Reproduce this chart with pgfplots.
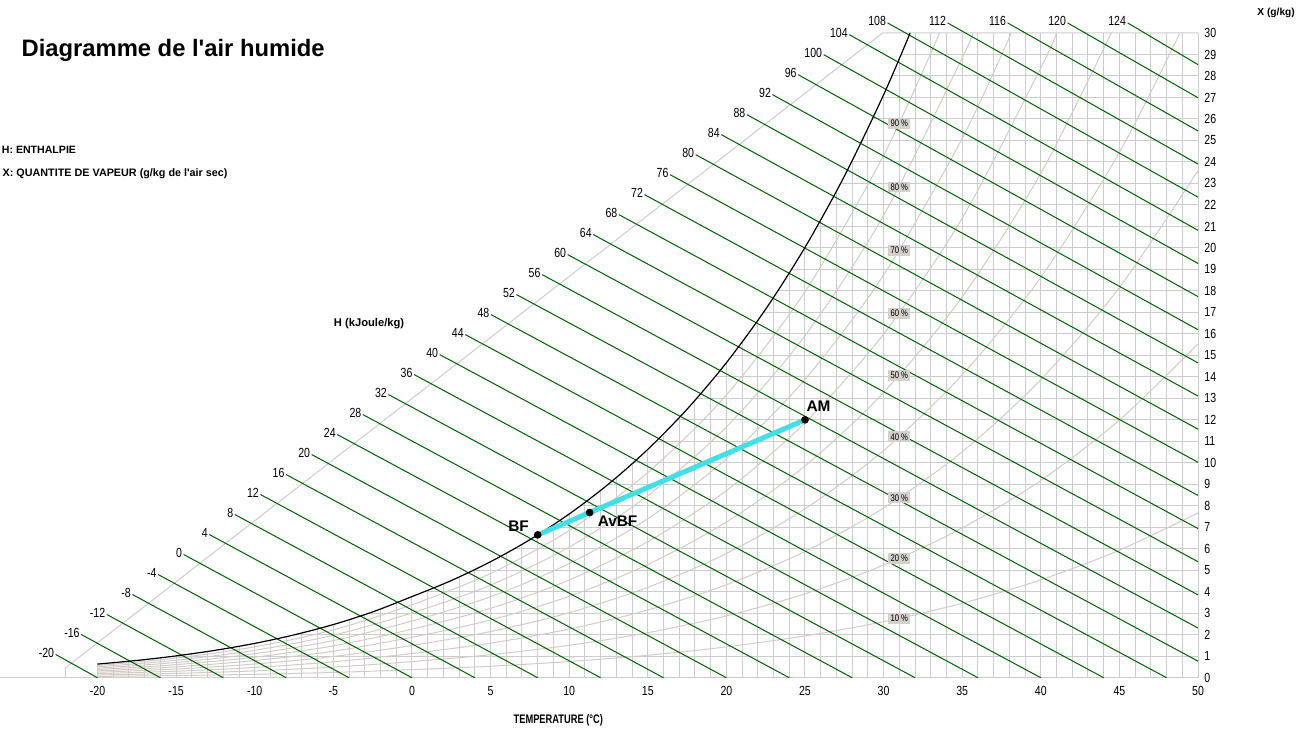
\documentclass[border=0pt]{standalone}
\usepackage{fontspec}
\setmainfont{Liberation Sans}
\usepackage{graphicx}
\usepackage{pgfplots}
\pgfplotsset{compat=1.18}
\usepgfplotslibrary{fillbetween}
\definecolor{gridc}{RGB}{204,204,204}
\definecolor{rhc}{RGB}{210,203,199}
\definecolor{greenl}{RGB}{0,95,0}
\definecolor{boxc}{RGB}{212,208,204}
\definecolor{cyanl}{RGB}{64,224,228}
\newcommand\nar[1]{\scalebox{0.8}[1]{#1}}
\newcommand\numfont{\fontsize{6.6}{7}\selectfont}
\newcommand\rhfont{\fontsize{4.8}{5}\selectfont}
\begin{document}
\begin{tikzpicture}
\begin{axis}[scale only axis, width=657.5pt, height=364.5pt,
  xmin=-26.17, xmax=57.44, ymin=-2.372, ymax=31.535, hide axis, clip=false]
\addplot[draw=none] coordinates {(-26.17,-2.372) (57.44,31.535)};
% grid
\pgfplotsinvokeforeach{-19,...,50}{\addplot[gridc, line width=0.5pt] coordinates {(#1,0) (#1,30)};}
\addplot[gridc, line width=0.5pt] coordinates {(-20,0) (-20,0.635)};
\pgfplotsinvokeforeach{1,...,29}{\addplot[gridc, line width=0.5pt] coordinates {(-20,#1) (50,#1)};}
% cover the fog region
\addplot[name path=satfill, draw=none, smooth] coordinates {(-20,0.635) (-17.5,0.805) (-15,1.016) (-12.5,1.278) (-10,1.598) (-7.5,1.994) (-5,2.475) (-2.5,3.063) (0,3.775) (2.5,4.521) (5,5.398) (7.5,6.423) (10,7.618) (12.5,9.009) (15,10.625) (17.5,12.495) (20,14.656) (22.5,17.150) (25,20.023) (27.5,23.33) (30,27.123) (31.69,30)};
\addplot[name path=topb, draw=none] coordinates {(-20,30.6) (31.75,30.6)};
\addplot[white] fill between[of=satfill and topb, on layer=main];
% relative humidity curves
\addplot[rhc, line width=0.5pt, smooth] coordinates {(-20,0.063) (-15,0.101) (-10,0.160) (-5,0.247) (0,0.375) (5,0.536) (10,0.754) (15,1.046) (20,1.435) (25,1.946) (30,2.610) (35,3.465) (40,4.556) (45,5.937) (50,7.671)};
\addplot[rhc, line width=0.5pt, smooth] coordinates {(-20,0.127) (-15,0.203) (-10,0.319) (-5,0.493) (0,0.751) (5,1.072) (10,1.509) (15,2.096) (20,2.877) (25,3.904) (30,5.242) (35,6.969) (40,9.179) (45,11.989) (50,15.534)};
\addplot[rhc, line width=0.5pt, smooth] coordinates {(-20,0.190) (-15,0.305) (-10,0.479) (-5,0.741) (0,1.128) (5,1.610) (10,2.266) (15,3.150) (20,4.325) (25,5.875) (30,7.896) (35,10.512) (40,13.871) (45,18.158) (50,23.596)};
\addplot[rhc, line width=0.5pt, smooth] coordinates {(-20,0.254) (-15,0.406) (-10,0.639) (-5,0.988) (0,1.504) (5,2.148) (10,3.025) (15,4.207) (20,5.781) (25,7.858) (30,10.572) (35,14.095) (40,18.633) (45,24.448) (48.85,30)};
\addplot[rhc, line width=0.5pt, smooth] coordinates {(-20,0.317) (-15,0.508) (-10,0.798) (-5,1.235) (0,1.882) (5,2.687) (10,3.786) (15,5.267) (20,7.243) (25,9.853) (30,13.272) (35,17.719) (40,23.467) (44.48,30)};
\addplot[rhc, line width=0.5pt, smooth] coordinates {(-20,0.381) (-15,0.610) (-10,0.958) (-5,1.482) (0,2.259) (5,3.228) (10,4.549) (15,6.332) (20,8.711) (25,11.861) (30,15.994) (35,21.385) (40,28.375) (41.0,30)};
\addplot[rhc, line width=0.5pt, smooth] coordinates {(-20,0.444) (-15,0.711) (-10,1.118) (-5,1.730) (0,2.638) (5,3.769) (10,5.313) (15,7.399) (20,10.187) (25,13.882) (30,18.741) (35,25.093) (38.12,30)};
\addplot[rhc, line width=0.5pt, smooth] coordinates {(-20,0.508) (-15,0.813) (-10,1.278) (-5,1.978) (0,3.016) (5,4.311) (10,6.080) (15,8.471) (20,11.670) (25,15.916) (30,21.510) (35,28.844) (35.68,30)};
\addplot[rhc, line width=0.5pt, smooth] coordinates {(-20,0.571) (-15,0.915) (-10,1.438) (-5,2.226) (0,3.395) (5,4.854) (10,6.848) (15,9.546) (20,13.159) (25,17.963) (30,24.304) (33.56,30)};
% frame
\addplot[gridc, line width=0.5pt] coordinates {(-26.17,0) (50,0)};
\addplot[gridc, line width=0.5pt] coordinates {(-22.036,0) (-22.036,0.465) (29.936,30) (50,30)};
% enthalpy lines
\newcommand\hl[5]{\addplot[greenl, line width=0.5pt] coordinates {(#2,#3) (#4,#5)};
  \node[anchor=east, inner sep=0.6pt, yshift=0.9pt, font=\numfont] at (axis cs:#2,#3) {\nar{#1}};}
\hl{-20}{-22.665}{1.084}{-20}{0}
\hl{-16}{-21.037}{2.014}{-16}{0}
\hl{-12}{-19.408}{2.944}{-12}{0}
\hl{-8}{-17.780}{3.874}{-8}{0}
\hl{-4}{-16.151}{4.805}{-4}{0}
\hl{0}{-14.523}{5.735}{0}{0}
\hl{4}{-12.894}{6.665}{4}{0}
\hl{8}{-11.266}{7.595}{8}{0}
\hl{12}{-9.637}{8.526}{12}{0}
\hl{16}{-8.009}{9.456}{16}{0}
\hl{20}{-6.380}{10.386}{20}{0}
\hl{24}{-4.752}{11.316}{24}{0}
\hl{28}{-3.123}{12.246}{28}{0}
\hl{32}{-1.495}{13.177}{32}{0}
\hl{36}{0.134}{14.107}{36}{0}
\hl{40}{1.763}{15.037}{40}{0}
\hl{44}{3.391}{15.967}{44}{0}
\hl{48}{5.020}{16.898}{48}{0}
\hl{52}{6.648}{17.828}{50}{0.771}
\hl{56}{8.277}{18.758}{50}{2.313}
\hl{60}{9.905}{19.688}{50}{3.855}
\hl{64}{11.534}{20.619}{50}{5.397}
\hl{68}{13.162}{21.549}{50}{6.939}
\hl{72}{14.791}{22.479}{50}{8.481}
\hl{76}{16.419}{23.409}{50}{10.023}
\hl{80}{18.048}{24.339}{50}{11.565}
\hl{84}{19.676}{25.270}{50}{13.107}
\hl{88}{21.305}{26.200}{50}{14.649}
\hl{92}{22.933}{27.130}{50}{16.191}
\hl{96}{24.562}{28.060}{50}{17.733}
\hl{100}{26.190}{28.991}{50}{19.275}
\hl{104}{27.819}{29.921}{50}{20.817}
\hl{108}{30.25}{30.47}{50}{22.359}
\hl{112}{34.067}{30.47}{50}{23.901}
\hl{116}{37.884}{30.47}{50}{25.443}
\hl{120}{41.701}{30.47}{50}{26.985}
\hl{124}{45.518}{30.47}{50}{28.527}
% saturation curve
\addplot[black, line width=0.6pt, smooth] coordinates {(-20,0.635) (-17.5,0.805) (-15,1.016) (-12.5,1.278) (-10,1.598) (-7.5,1.994) (-5,2.475) (-2.5,3.063) (0,3.775) (2.5,4.521) (5,5.398) (7.5,6.423) (10,7.618) (12.5,9.009) (15,10.625) (17.5,12.495) (20,14.656) (22.5,17.150) (25,20.023) (27.5,23.33) (30,27.123) (31.69,30)};
% RH labels
\node[fill=boxc, inner xsep=1.2pt, inner ysep=1pt, font=\rhfont] at (axis cs:31,25.80) {\nar{90 \%}};
\node[fill=boxc, inner xsep=1.2pt, inner ysep=1pt, font=\rhfont] at (axis cs:31,22.83) {\nar{80 \%}};
\node[fill=boxc, inner xsep=1.2pt, inner ysep=1pt, font=\rhfont] at (axis cs:31,19.88) {\nar{70 \%}};
\node[fill=boxc, inner xsep=1.2pt, inner ysep=1pt, font=\rhfont] at (axis cs:31,16.96) {\nar{60 \%}};
\node[fill=boxc, inner xsep=1.2pt, inner ysep=1pt, font=\rhfont] at (axis cs:31,14.07) {\nar{50 \%}};
\node[fill=boxc, inner xsep=1.2pt, inner ysep=1pt, font=\rhfont] at (axis cs:31,11.21) {\nar{40 \%}};
\node[fill=boxc, inner xsep=1.2pt, inner ysep=1pt, font=\rhfont] at (axis cs:31,8.37) {\nar{30 \%}};
\node[fill=boxc, inner xsep=1.2pt, inner ysep=1pt, font=\rhfont] at (axis cs:31,5.55) {\nar{20 \%}};
\node[fill=boxc, inner xsep=1.2pt, inner ysep=1pt, font=\rhfont] at (axis cs:31,2.76) {\nar{10 \%}};
% process line
\addplot[cyanl, line width=2.5pt] coordinates {(8,6.647) (25,12.0)};
\addplot[only marks, mark=*, mark size=1.7pt, black] coordinates {(8,6.647) (11.3,7.686) (25,12.0)};
\node[font=\fontsize{7.7}{8}\selectfont\bfseries] at (axis cs:6.781,7.07) {BF};
\node[font=\fontsize{7.7}{8}\selectfont\bfseries] at (axis cs:13.079,7.302) {AvBF};
\node[font=\fontsize{7.7}{8}\selectfont\bfseries] at (axis cs:25.865,12.651) {AM};
% tick labels
\pgfplotsinvokeforeach{-20,-15,...,50}{\node[font=\numfont, inner sep=0pt] at (axis cs:#1,-0.6) {\nar{#1}};}
\pgfplotsinvokeforeach{0,...,30}{\node[font=\numfont, inner sep=0pt, anchor=west] at (axis cs:50.38,#1) {\nar{#1}};}
% texts
\node[anchor=base west, inner sep=0pt, font=\fontsize{11.9}{13}\selectfont\bfseries] at (axis cs:-24.854,28.884) {Diagramme de l\textquotesingle air humide};
\node[anchor=base west, inner sep=0pt, font=\fontsize{5.3}{6}\selectfont\bfseries] at (axis cs:-26.107,24.405) {H: ENTHALPIE};
\node[anchor=base west, inner sep=0pt, font=\fontsize{5.4}{6}\selectfont\bfseries] at (axis cs:-26.06,23.316) {X: QUANTITE DE VAPEUR (g/kg de l\textquotesingle air sec)};
\node[anchor=base west, inner sep=0pt, font=\fontsize{5.6}{6}\selectfont\bfseries] at (axis cs:-4.987,16.326) {H (kJoule/kg)};
\node[anchor=base west, inner sep=0pt, font=\fontsize{5.1}{6}\selectfont\bfseries] at (axis cs:53.753,30.823) {X (g/kg)};
\node[anchor=base west, inner sep=0pt, font=\fontsize{6.2}{7}\selectfont\bfseries] at (axis cs:6.444,-2.107) {\scalebox{0.75}[1]{TEMPERATURE (°C)}};
\end{axis}
\end{tikzpicture}
\end{document}
